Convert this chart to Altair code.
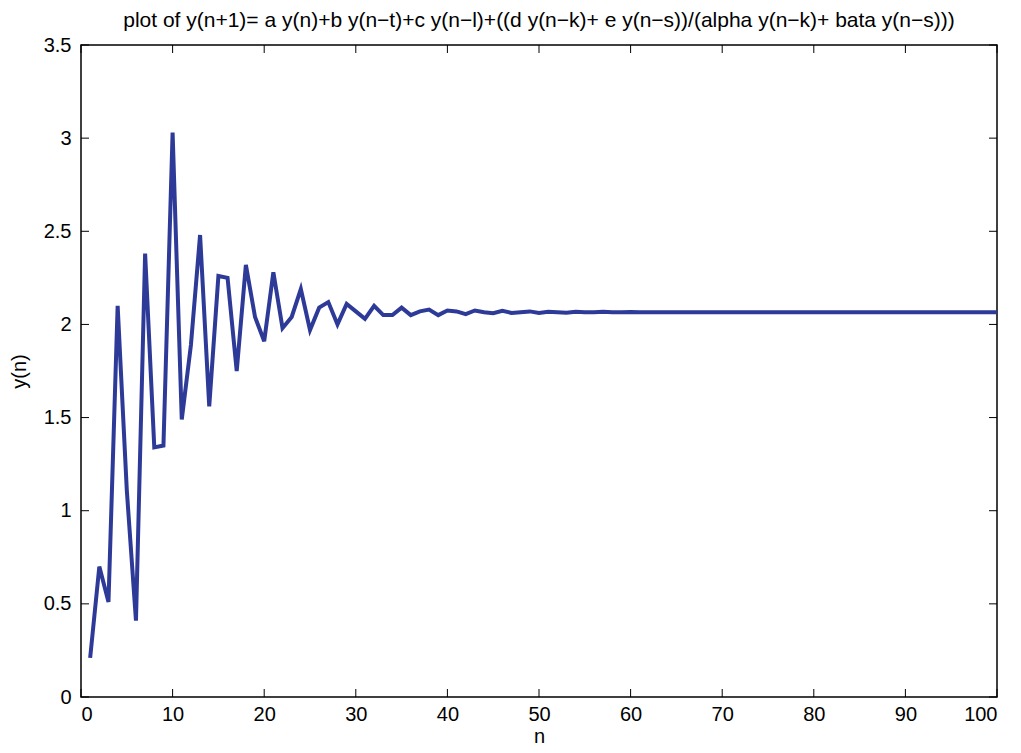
import altair as alt
import pandas as pd

n_vals = list(range(1, 101))
y_head = [0.21, 0.70, 0.51, 2.10, 1.11, 0.41, 2.38, 1.34, 1.35, 3.03,
          1.49, 1.89, 2.48, 1.56, 2.26, 2.25, 1.75, 2.32, 2.04, 1.91,
          2.28, 1.98, 2.04, 2.19, 1.97, 2.09, 2.12, 2.00, 2.11, 2.07,
          2.03, 2.10, 2.05, 2.05, 2.09, 2.05, 2.07, 2.08, 2.05, 2.075,
          2.07, 2.055, 2.075, 2.065, 2.06, 2.073, 2.062, 2.066, 2.07, 2.062,
          2.068, 2.066, 2.063, 2.068, 2.065, 2.065, 2.068, 2.065, 2.066, 2.067]
y_tail = [2.066] * (100 - len(y_head))
y_vals = y_head + y_tail

x_ticks = [0, 10, 20, 30, 40, 50, 60, 70, 80, 90, 100]
y_ticks = [0, 0.5, 1, 1.5, 2, 2.5, 3, 3.5]

df = pd.DataFrame({"n": n_vals, "y": y_vals})
W, H = 916, 652
FONT = "Liberation Sans"

xs = alt.Scale(domain=[0, 100], nice=False)
ys = alt.Scale(domain=[0, 3.5], nice=False)

line = alt.Chart(df).mark_line(color="#2e3a97", strokeWidth=4).encode(
    x=alt.X("n:Q", scale=xs, title="n",
            axis=alt.Axis(values=x_ticks, ticks=False, labelPadding=7, titlePadding=2,
                          domain=False, grid=False, format="d")),
    y=alt.Y("y:Q", scale=ys, title="y(n)",
            axis=alt.Axis(values=y_ticks, ticks=False, labelPadding=10, titlePadding=14,
                          domain=False, grid=False, format="~g")),
)

xt = pd.DataFrame({"t": x_ticks})
yt = pd.DataFrame({"t": y_ticks})
tick_b = alt.Chart(xt).mark_rule(color="black", strokeWidth=1).encode(
    x=alt.X("t:Q", scale=xs), y=alt.value(H), y2=alt.value(H - 8))
tick_t = alt.Chart(xt).mark_rule(color="black", strokeWidth=1).encode(
    x=alt.X("t:Q", scale=xs), y=alt.value(0), y2=alt.value(8))
tick_l = alt.Chart(yt).mark_rule(color="black", strokeWidth=1).encode(
    y=alt.Y("t:Q", scale=ys), x=alt.value(0), x2=alt.value(8))
tick_r = alt.Chart(yt).mark_rule(color="black", strokeWidth=1).encode(
    y=alt.Y("t:Q", scale=ys), x=alt.value(W), x2=alt.value(W - 8))

chart = alt.layer(line, tick_b, tick_t, tick_l, tick_r).properties(
    width=W, height=H,
    background="white",
    title=alt.TitleParams(
        "plot of y(n+1)= a y(n)+b y(n\u2212t)+c y(n\u2212l)+((d y(n\u2212k)+ e y(n\u2212s))/(alpha y(n\u2212k)+ bata y(n\u2212s)))",
        font=FONT, fontSize=21, fontWeight="normal", color="black", offset=4),
    autosize=alt.AutoSizeParams(type="none"),
    padding={"left": 73, "top": 37, "right": 16, "bottom": 56},
).configure_view(stroke="black", strokeWidth=1.5).configure_axis(
    labelFont=FONT, titleFont=FONT, labelFontSize=20, titleFontSize=20,
    labelColor="black", titleColor="black", titleFontWeight="normal",
)

chart.save("out.html", embed_options={"renderer": "svg", "actions": False})
